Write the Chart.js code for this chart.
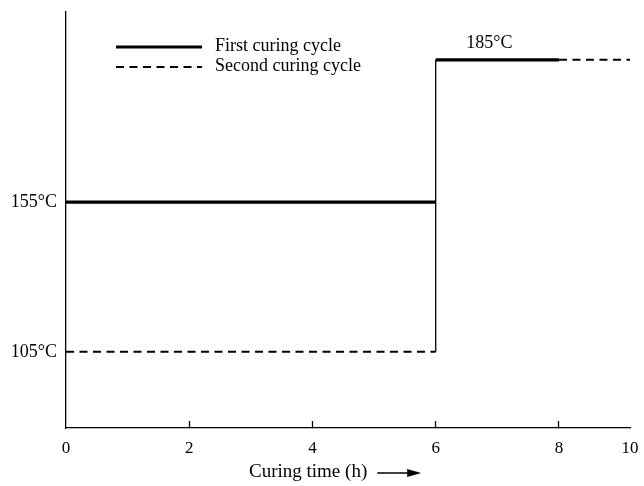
<!DOCTYPE html>
<html lang="en">
<head>
  <meta charset="UTF-8">
  <title>Curing cycles</title>
  <script src="https://cdn.jsdelivr.net/npm/chart.js@4.4.1/dist/chart.umd.min.js"></script>
  <style>
    html, body { margin: 0; padding: 0; background: #fff; }
    #wrap { width: 644px; height: 486px; }
  </style>
</head>
<body>
  <div id="wrap"><canvas id="chart"></canvas></div>

  <script>
    // Data (null = break in the line)
    const firstTime = [0, 6, 6, 6, 8];
    const firstTemp = [155, 155, null, 185, 185];
    const secondTime = [0, 6, 7, 8, 10];
    const secondTemp = [105, 105, null, 185, 185];
    const riseTime = [6, 6];
    const riseTemp = [105, 185];

    const xTickValues = [0, 2, 4, 6, 8, 10];
    const yTickValues = [105, 155];
    const yTickLabels = ['105°C', '155°C'];
    const seriesNames = ['First curing cycle', 'Second curing cycle'];
    const peakLabel = '185°C';
    const xTitle = 'Curing time (h)';

    const serif = '"Liberation Serif", "Times New Roman", serif';

    // the drawing is not to scale: piecewise linear axis
    class BreakScale extends Chart.LinearScale {
      buildTicks() {
        return this.options.tickValues.map(v => ({ value: v }));
      }
      _frac(v) {
        const s = this.options.stops;
        if (v <= s[0][0]) return s[0][1];
        for (let i = 1; i < s.length; i++) {
          if (v <= s[i][0]) {
            const t = (v - s[i - 1][0]) / (s[i][0] - s[i - 1][0]);
            return s[i - 1][1] + t * (s[i][1] - s[i - 1][1]);
          }
        }
        return s[s.length - 1][1];
      }
      getPixelForValue(v) {
        return this.getPixelForDecimal(this._frac(v));
      }
      getValueForPixel(p) {
        const d = this.getDecimalForPixel(p);
        const s = this.options.stops;
        for (let i = 1; i < s.length; i++) {
          if (d <= s[i][1]) {
            const t = (d - s[i - 1][1]) / (s[i][1] - s[i - 1][1]);
            return s[i - 1][0] + t * (s[i][0] - s[i - 1][0]);
          }
        }
        return s[s.length - 1][0];
      }
    }
    BreakScale.id = 'break';
    Chart.register(BreakScale);

    const toPoints = (xs, ys) => xs.map((x, i) => ({ x: x, y: ys[i] }));

    // the layout padding alone decides the chart area
    function noScalePadding(s) {
      s.paddingLeft = s.paddingRight = s.paddingTop = s.paddingBottom = 0;
    }

    // legend, peak label and axis title drawn by hand
    const extras = {
      id: 'extras',
      afterDraw(chart) {
        const ctx = chart.ctx;
        const x = chart.scales.x, y = chart.scales.y;
        ctx.save();
        ctx.fillStyle = '#000';
        ctx.strokeStyle = '#000';

        // legend
        const rows = [{ ds: chart.data.datasets[0], cy: 47 }, { ds: chart.data.datasets[1], cy: 67 }];
        rows.forEach((r, i) => {
          ctx.lineWidth = r.ds.borderWidth;
          ctx.setLineDash(r.ds.borderDash || []);
          ctx.beginPath();
          ctx.moveTo(116, r.cy);
          ctx.lineTo(202, r.cy);
          ctx.stroke();
          ctx.setLineDash([]);
          ctx.font = '18px ' + serif;
          ctx.textAlign = 'left';
          ctx.textBaseline = 'middle';
          ctx.fillText(seriesNames[i], 215, r.cy - 1);
        });

        // 185°C label above the top step
        ctx.font = '18px ' + serif;
        ctx.textAlign = 'center';
        ctx.textBaseline = 'bottom';
        ctx.fillText(peakLabel, (x.getPixelForValue(6) + x.getPixelForValue(8)) / 2 - 8, y.getPixelForValue(185) - 8);

        // x title with arrow
        ctx.font = '19px ' + serif;
        ctx.textAlign = 'left';
        ctx.textBaseline = 'middle';
        const tx = 249, ty = 472;
        ctx.fillText(xTitle, tx, ty);
        const ax = tx + ctx.measureText(xTitle).width + 10;
        ctx.lineWidth = 1.3;
        ctx.beginPath();
        ctx.moveTo(ax, ty + 1);
        ctx.lineTo(ax + 34, ty + 1);
        ctx.stroke();
        ctx.beginPath();
        ctx.moveTo(ax + 44, ty + 1);
        ctx.lineTo(ax + 30, ty - 3);
        ctx.lineTo(ax + 30, ty + 5);
        ctx.closePath();
        ctx.fill();
        ctx.restore();
      }
    };

    new Chart(document.getElementById('chart'), {
      type: 'line',
      data: {
        datasets: [
          {
            label: seriesNames[0],
            data: toPoints(firstTime, firstTemp),
            borderColor: '#000',
            borderWidth: 3.2,
            pointRadius: 0,
            spanGaps: false,
            clip: false
          },
          {
            label: seriesNames[1],
            data: toPoints(secondTime, secondTemp),
            borderColor: '#000',
            borderWidth: 2,
            borderDash: [8, 5.5],
            pointRadius: 0,
            spanGaps: false,
            clip: false
          },
          {
            label: 'rise',
            data: toPoints(riseTime, riseTemp),
            borderColor: '#000',
            borderWidth: 1.3,
            pointRadius: 0,
            clip: false
          }
        ]
      },
      options: {
        responsive: true,
        maintainAspectRatio: false,
        animation: false,
        layout: { padding: { top: 12, right: 14, left: 0, bottom: 0 } },
        plugins: {
          legend: { display: false },
          tooltip: { enabled: false }
        },
        scales: {
          x: {
            type: 'break',
            min: 0,
            max: 10,
            stops: [[0, 0], [8, 0.874], [10, 1]],
            tickValues: xTickValues,
            afterFit: s => { s.height = 58; noScalePadding(s); },
            grid: {
              drawOnChartArea: false,
              tickLength: -7,
              tickWidth: 1.3,
              tickColor: c => (c.tick && (c.tick.value === 0 || c.tick.value === 10)) ? 'rgba(0,0,0,0)' : '#000'
            },
            border: { display: true, color: '#000', width: 1.3 },
            ticks: {
              color: '#000',
              padding: 17,
              maxRotation: 0,
              autoSkip: false,
              font: { family: serif, size: 17 },
              callback: v => String(v)
            }
          },
          y: {
            type: 'break',
            min: 80,
            max: 200,
            stops: [[80, 0], [105, 0.183], [155, 0.543], [185, 0.885], [200, 1]],
            tickValues: yTickValues,
            afterFit: s => { s.width = 66; noScalePadding(s); },
            grid: { drawOnChartArea: false, drawTicks: false },
            border: { display: true, color: '#000', width: 1.3 },
            ticks: {
              color: '#000',
              padding: 9,
              autoSkip: false,
              font: { family: serif, size: 18 },
              callback: (v, i) => yTickLabels[i]
            }
          }
        }
      },
      plugins: [extras]
    });
  </script>
</body>
</html>
